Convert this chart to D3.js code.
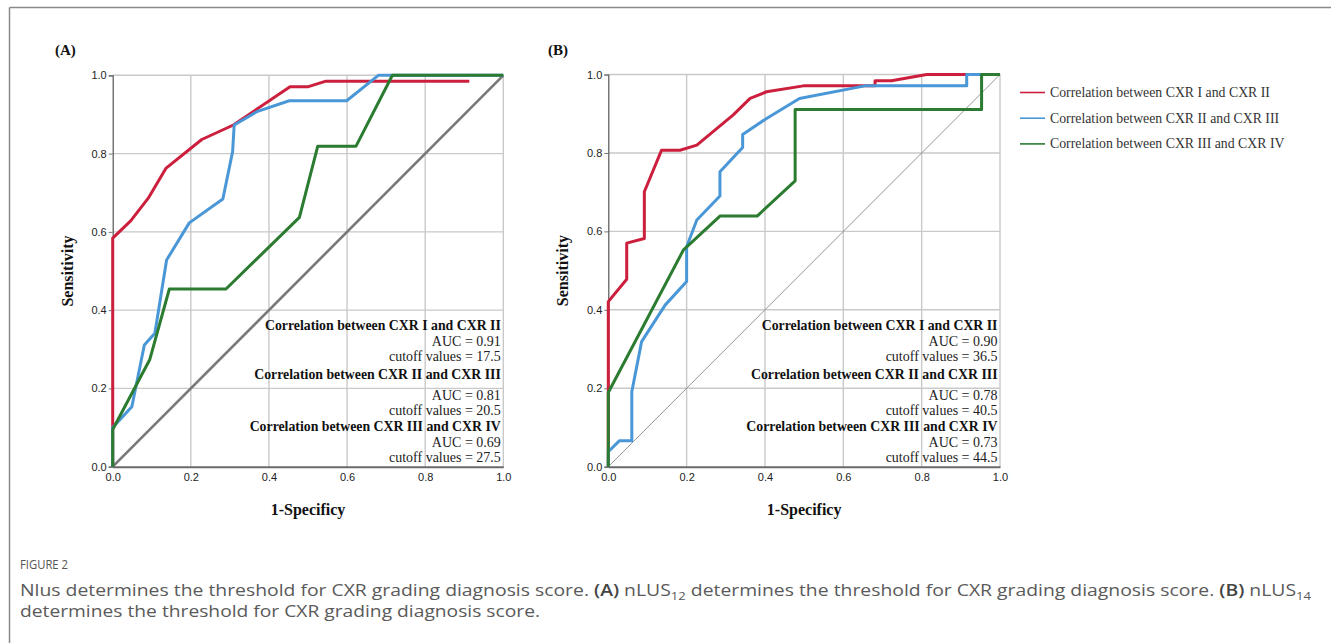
<!DOCTYPE html>
<html><head><meta charset="utf-8">
<script src="https://cdn.jsdelivr.net/npm/d3@7"></script>
<style>html,body{margin:0;padding:0;background:#fff;}svg{display:block;}</style>
</head><body>
<svg id="c" width="1331" height="643"></svg>
<script>
// ---------- data ----------
const seriesNames = ["Correlation between CXR I and CXR II","Correlation between CXR II and CXR III","Correlation between CXR III and CXR IV"];
const seriesColors = ["#cc1f3d","#4a97d8","#2b7b30"];
const ticks = [0.0,0.2,0.4,0.6,0.8,1.0];

// Panel A (nLUS12): [1-specificity, sensitivity]
const rocA_I_II = [[0,0],[0,0.584],[0.046,0.628],[0.091,0.686],[0.136,0.762],[0.228,0.836],[0.309,0.873],[0.454,0.971],[0.501,0.971],[0.546,0.985],[0.913,0.985]];
const rocA_II_III = [[0,0],[0,0.10],[0.049,0.153],[0.081,0.311],[0.108,0.341],[0.138,0.528],[0.196,0.623],[0.282,0.684],[0.307,0.805],[0.311,0.873],[0.369,0.907],[0.452,0.935],[0.599,0.935],[0.680,1.0],[1,1]];
const rocA_III_IV = [[0,0],[0,0.095],[0.095,0.274],[0.145,0.454],[0.290,0.454],[0.478,0.637],[0.525,0.819],[0.623,0.819],[0.716,1.0],[1,1]];
const aucA = ["0.91","0.81","0.69"];
const cutoffA = ["17.5","20.5","27.5"];

// Panel B (nLUS14)
const rocB_I_II = [[0,0],[0,0.421],[0.047,0.478],[0.047,0.570],[0.092,0.582],[0.092,0.701],[0.136,0.807],[0.183,0.807],[0.226,0.820],[0.319,0.897],[0.362,0.939],[0.404,0.956],[0.498,0.971],[0.681,0.971],[0.681,0.984],[0.723,0.984],[0.813,1.0],[1,1]];
const rocB_II_III = [[0,0],[0,0.038],[0.028,0.066],[0.060,0.066],[0.060,0.191],[0.085,0.319],[0.145,0.412],[0.200,0.472],[0.200,0.561],[0.226,0.629],[0.285,0.690],[0.285,0.752],[0.343,0.814],[0.343,0.847],[0.404,0.888],[0.488,0.939],[0.655,0.971],[0.915,0.971],[0.915,1.0],[1,1]];
const rocB_III_IV = [[0,0],[0,0.189],[0.192,0.553],[0.285,0.639],[0.380,0.639],[0.477,0.729],[0.477,0.911],[0.953,0.911],[0.953,1.0],[1,1]];
const aucB = ["0.90","0.78","0.73"];
const cutoffB = ["36.5","40.5","44.5"];

const panelLabels = ["(A)","(B)"];
const xAxisTitle = "1-Specificy";
const yAxisTitle = "Sensitivity";

// ---------- drawing ----------
const svg = d3.select("#c");
const serif = "'Liberation Serif','Times New Roman',serif";
const sans = "'Liberation Sans',Arial,sans-serif";

// figure frame (top & left)
svg.append("line").attr("x1",9.5).attr("x2",1331).attr("y1",7.5).attr("y2",7.5).attr("stroke","#8a8a8a").attr("stroke-width",1.5);
svg.append("line").attr("x1",9.5).attr("x2",9.5).attr("y1",7.5).attr("y2",643).attr("stroke","#8a8a8a").attr("stroke-width",1.5);

const panels = [
  {x0:112.7,x1:503.3,y0:466.7,y1:75.3,data:[rocA_I_II,rocA_II_III,rocA_III_IV],auc:aucA,cut:cutoffA,diagW:2.6,diagC:"#787878",label:panelLabels[0],lx:55,ylx:68},
  {x0:608.3,x1:1000,y0:466.7,y1:74.5,data:[rocB_I_II,rocB_II_III,rocB_III_IV],auc:aucB,cut:cutoffB,diagW:0.9,diagC:"#8a8a8a",label:panelLabels[1],lx:548,ylx:563}
];

panels.forEach(p=>{
  const x = d3.scaleLinear().domain([0,1]).range([p.x0,p.x1]);
  const y = d3.scaleLinear().domain([0,1]).range([p.y0,p.y1]);
  const g = svg.append("g");
  // grid
  g.append("g").selectAll("line").data(ticks.filter(t=>t>0)).join("line")
    .attr("x1",d=>x(d)).attr("x2",d=>x(d)).attr("y1",y(0)).attr("y2",y(1))
    .attr("stroke","#c9c9c9").attr("stroke-width",1.4);
  g.append("g").selectAll("line").data(ticks.filter(t=>t>0)).join("line")
    .attr("x1",x(0)).attr("x2",x(1)).attr("y1",d=>y(d)).attr("y2",d=>y(d))
    .attr("stroke","#c9c9c9").attr("stroke-width",1.4);
  // axes
  const ya = d3.axisLeft(y).tickValues(ticks).tickFormat(d3.format(".1f")).tickSize(4).tickPadding(2);
  const xa = d3.axisBottom(x).tickValues(ticks).tickFormat(d3.format(".1f")).tickSize(0).tickPadding(7);
  const gy = g.append("g").attr("transform",`translate(${p.x0},0)`).call(ya);
  gy.select(".domain").attr("stroke","#555").attr("stroke-width",1.2);
  gy.selectAll(".tick line").attr("stroke","#777");
  gy.selectAll("text").attr("font-family",sans).attr("font-size",11).attr("fill","#222");
  const gx = g.append("g").attr("transform",`translate(0,${p.y0})`).call(xa);
  gx.select(".domain").attr("stroke","#6a6a6a").attr("stroke-width",2);
  gx.selectAll("text").attr("font-family",sans).attr("font-size",11).attr("fill","#222");
  // diagonal
  g.append("line").attr("x1",x(0)).attr("y1",y(0)).attr("x2",x(1)).attr("y2",y(1))
    .attr("stroke",p.diagC).attr("stroke-width",p.diagW);
  // curves
  const line = d3.line().x(d=>x(d[0])).y(d=>y(d[1]));
  p.data.forEach((d,i)=>{
    g.append("path").datum(d).attr("d",line).attr("fill","none")
      .attr("stroke",seriesColors[i]).attr("stroke-width",3).attr("stroke-linejoin","round");
  });
  // annotation
  const rx = p.x1 - 2.5;
  const base = [330,346,361,379,400,415,431,447,462];
  for(let i=0;i<3;i++){
    g.append("text").attr("x",rx).attr("y",base[i*3]).attr("text-anchor","end")
      .attr("font-family",serif).attr("font-weight","bold").attr("font-size",13.8).attr("fill","#111")
      .text(seriesNames[i]);
    g.append("text").attr("x",rx).attr("y",base[i*3+1]).attr("text-anchor","end")
      .attr("font-family",serif).attr("font-size",14).attr("fill","#222")
      .text("AUC = "+p.auc[i]);
    g.append("text").attr("x",rx).attr("y",base[i*3+2]).attr("text-anchor","end")
      .attr("font-family",serif).attr("font-size",14).attr("fill","#222")
      .text("cutoff values = "+p.cut[i]);
  }
  // titles
  g.append("text").attr("x",p.lx).attr("y",55).attr("font-family",serif).attr("font-weight","bold")
    .attr("font-size",15).attr("fill","#111").text(p.label);
  g.append("text").attr("transform",`translate(${p.ylx+5},${(p.y0+p.y1)/2}) rotate(-90)`)
    .attr("text-anchor","middle").attr("font-family",serif).attr("font-weight","bold")
    .attr("font-size",16).attr("fill","#111").text(yAxisTitle);
  g.append("text").attr("x",(p.x0+p.x1)/2).attr("y",515).attr("text-anchor","middle")
    .attr("font-family",serif).attr("font-weight","bold").attr("font-size",16).attr("fill","#111").text(xAxisTitle);
});

// legend
const lg = svg.append("g");
seriesNames.forEach((n,i)=>{
  const yy = 92.5 + i*25.7;
  lg.append("line").attr("x1",1020).attr("x2",1045).attr("y1",yy).attr("y2",yy)
    .attr("stroke",seriesColors[i]).attr("stroke-width",1.6);
  lg.append("text").attr("x",1050).attr("y",yy+4.5).attr("font-family",serif).attr("font-size",13.8)
    .attr("fill","#333").text(n);
});

// caption
const capFont = "'Open Sans','Noto Sans',sans-serif";
svg.append("text").attr("x",20).attr("y",569).attr("font-family",capFont).attr("font-size",12)
  .attr("fill","#555").attr("textLength",48).attr("lengthAdjust","spacingAndGlyphs").text("FIGURE 2");
const l1 = svg.append("text").attr("x",20).attr("y",596).attr("font-family",capFont).attr("font-size",15.5)
  .attr("fill","#5a5a5a").attr("textLength",1291).attr("lengthAdjust","spacingAndGlyphs");
l1.append("tspan").text("Nlus determines the threshold for CXR grading diagnosis score. ");
l1.append("tspan").attr("font-weight","600").attr("fill","#444").text("(A)");
l1.append("tspan").text(" nLUS");
l1.append("tspan").attr("font-size",10.5).attr("dy",3.5).text("12");
l1.append("tspan").attr("dy",-3.5).text(" determines the threshold for CXR grading diagnosis score. ");
l1.append("tspan").attr("font-weight","600").attr("fill","#444").text("(B)");
l1.append("tspan").text(" nLUS");
l1.append("tspan").attr("font-size",10.5).attr("dy",3.5).text("14");
svg.append("text").attr("x",20).attr("y",617).attr("font-family",capFont).attr("font-size",15.5)
  .attr("fill","#5a5a5a").attr("textLength",520).attr("lengthAdjust","spacingAndGlyphs")
  .text("determines the threshold for CXR grading diagnosis score.");
</script>
</body></html>
